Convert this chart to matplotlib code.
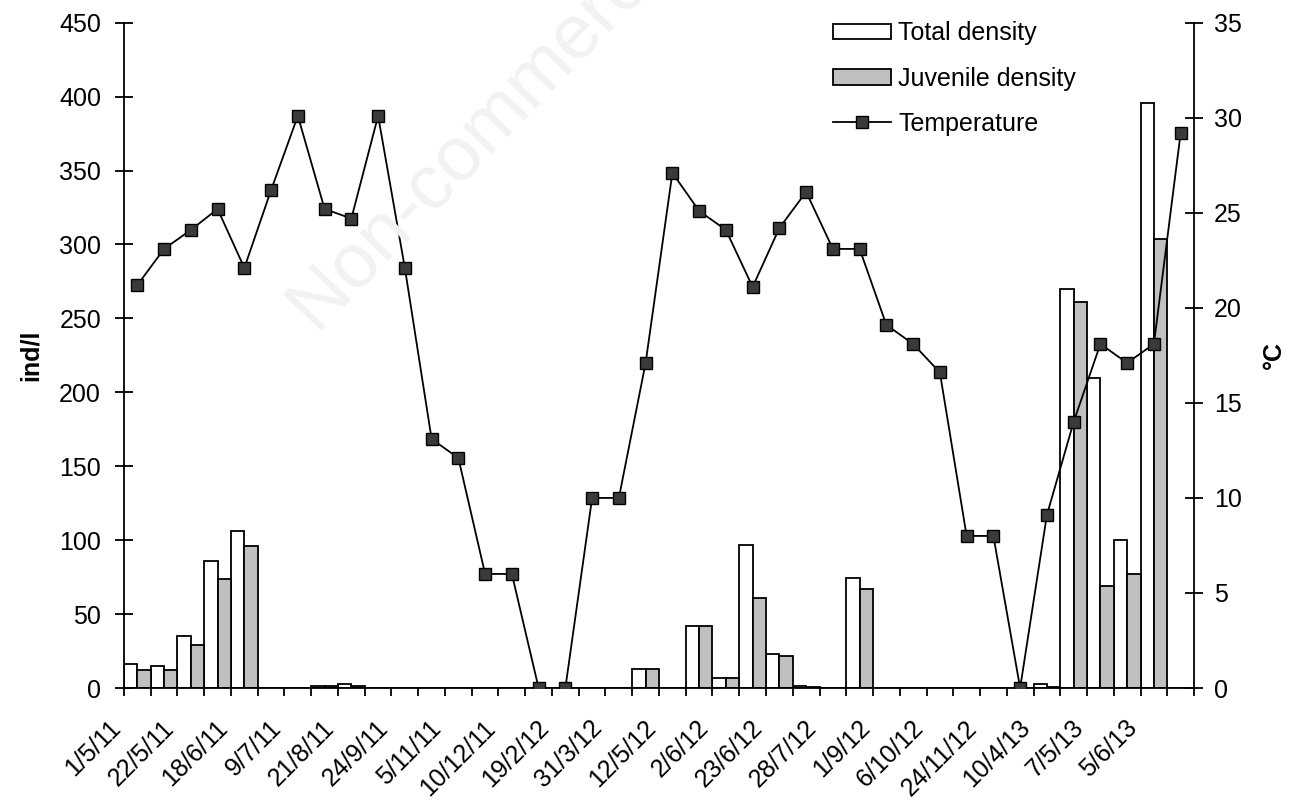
import matplotlib
matplotlib.use("Agg")
import matplotlib.pyplot as plt
from matplotlib.patches import Patch
from matplotlib.lines import Line2D
import numpy as np

plt.rcParams['font.family'] = ['Liberation Sans', 'DejaVu Sans']

# sampling dates shown on the axis (every second sample is labelled)
date_labels = ['1/5/11', '22/5/11', '18/6/11', '9/7/11', '21/8/11', '24/9/11',
               '5/11/11', '10/12/11', '19/2/12', '31/3/12', '12/5/12', '2/6/12',
               '23/6/12', '28/7/12', '1/9/12', '6/10/12', '24/11/12', '10/4/13',
               '7/5/13', '5/6/13']

# densities (ind/l), one value per sample
total_density = [16, 15, 35, 86, 106, 0, 0, 1.5, 3, 0,
                 0, 0, 0, 0, 0, 0, 0, 0, 0, 13,
                 0, 42, 6.5, 97, 23, 1.5, 0, 74.5, 0, 0,
                 0, 0, 0, 0, 2.5, 270, 210, 100, 396, 0]
juvenile_density = [12.5, 12.5, 29, 74, 96, 0, 0, 1.5, 1.2, 0,
                    0, 0, 0, 0, 0, 0, 0, 0, 0, 13,
                    0, 42, 6.5, 61, 21.5, 1, 0, 67, 0, 0,
                    0, 0, 0, 0, 1, 261, 69, 77, 304, 0]

# water temperature (°C)
temperature = [21.2, 23.1, 24.1, 25.2, 22.1, 26.2, 30.1, 25.2, 24.7, 30.1,
               22.1, 13.1, 12.1, 6.0, 6.0, 0, 0, 10, 10, 17.1,
               27.1, 25.1, 24.1, 21.1, 24.2, 26.1, 23.1, 23.1, 19.1, 18.1,
               16.6, 8.0, 8.0, 0, 9.1, 14.0, 18.1, 17.1, 18.1, 29.2]

n = len(temperature)
x = np.arange(n)

fig = plt.figure(figsize=(12.9, 8.06), dpi=100)
fig.text(0.246, 0.585, 'Non-commercial use only', rotation=46, fontsize=55,
         color='#f2f2f2', ha='left', va='baseline', rotation_mode='anchor',
         zorder=0)

ax = fig.add_axes([0.0961, 0.1464, 0.8295, 0.8254])
ax.patch.set_alpha(0)
ax.bar(x - 0.25, total_density, width=0.5, color='white', edgecolor='black',
       linewidth=1.3, zorder=2)
ax.bar(x + 0.25, juvenile_density, width=0.5, color='#c0c0c0', edgecolor='black',
       linewidth=1.3, zorder=2)
ax.set_xlim(-0.5, n - 0.5)
ax.set_ylim(0, 450)
ax.set_yticks(np.arange(0, 451, 50))
ax.set_ylabel('ind/l', fontsize=18, fontweight='bold', labelpad=12)

# ticks on category boundaries, rotated date labels on every second sample
# (label text ends a little left of the sample centre)
ax.set_xticks(np.arange(n + 1) - 0.5)
ax.set_xticklabels([])
ax.set_xticks(x[::2] - 0.45, minor=True)
ax.set_xticklabels(date_labels, minor=True, rotation=45, ha='right', va='top',
                   fontsize=18)
ax.tick_params(axis='x', which='major', direction='out', length=6, width=1.3)
ax.tick_params(axis='x', which='minor', length=0, pad=20)
ax.tick_params(axis='y', direction='inout', length=13, width=1.3,
               labelsize=18, pad=10)
for side in ['top', 'right']:
    ax.spines[side].set_visible(False)
for side in ['left', 'bottom']:
    ax.spines[side].set_linewidth(1.3)

ax2 = ax.twinx()
ax2.plot(x, temperature, color='black', linewidth=1.3, marker='s',
         markersize=9, markerfacecolor='#3a3a3a', markeredgecolor='black',
         markeredgewidth=1.0, zorder=3)
ax2.set_ylim(0, 35)
ax2.set_yticks(np.arange(0, 36, 5))
ax2.set_ylabel('°C', fontsize=18, fontweight='bold', rotation=90, labelpad=14)
ax2.tick_params(axis='y', direction='inout', length=13, width=1.3,
                labelsize=18, pad=8)
for side in ['top', 'left', 'bottom']:
    ax2.spines[side].set_visible(False)
ax2.spines['right'].set_linewidth(1.3)

handles = [
    Patch(facecolor='white', edgecolor='black', linewidth=1.3, label='Total density'),
    Patch(facecolor='#c0c0c0', edgecolor='black', linewidth=1.3, label='Juvenile density'),
    Line2D([0], [0], color='black', linewidth=1.3, marker='s', markersize=9,
           markerfacecolor='#3a3a3a', markeredgecolor='black', label='Temperature'),
]
ax2.legend(handles=handles, loc='upper left', bbox_to_anchor=(0.638, 0.986),
           bbox_transform=fig.transFigure, frameon=False, fontsize=18,
           handlelength=2.3, handleheight=0.6, handletextpad=0.3,
           labelspacing=0.85, borderaxespad=0)

fig.savefig('out.png', dpi=100)
